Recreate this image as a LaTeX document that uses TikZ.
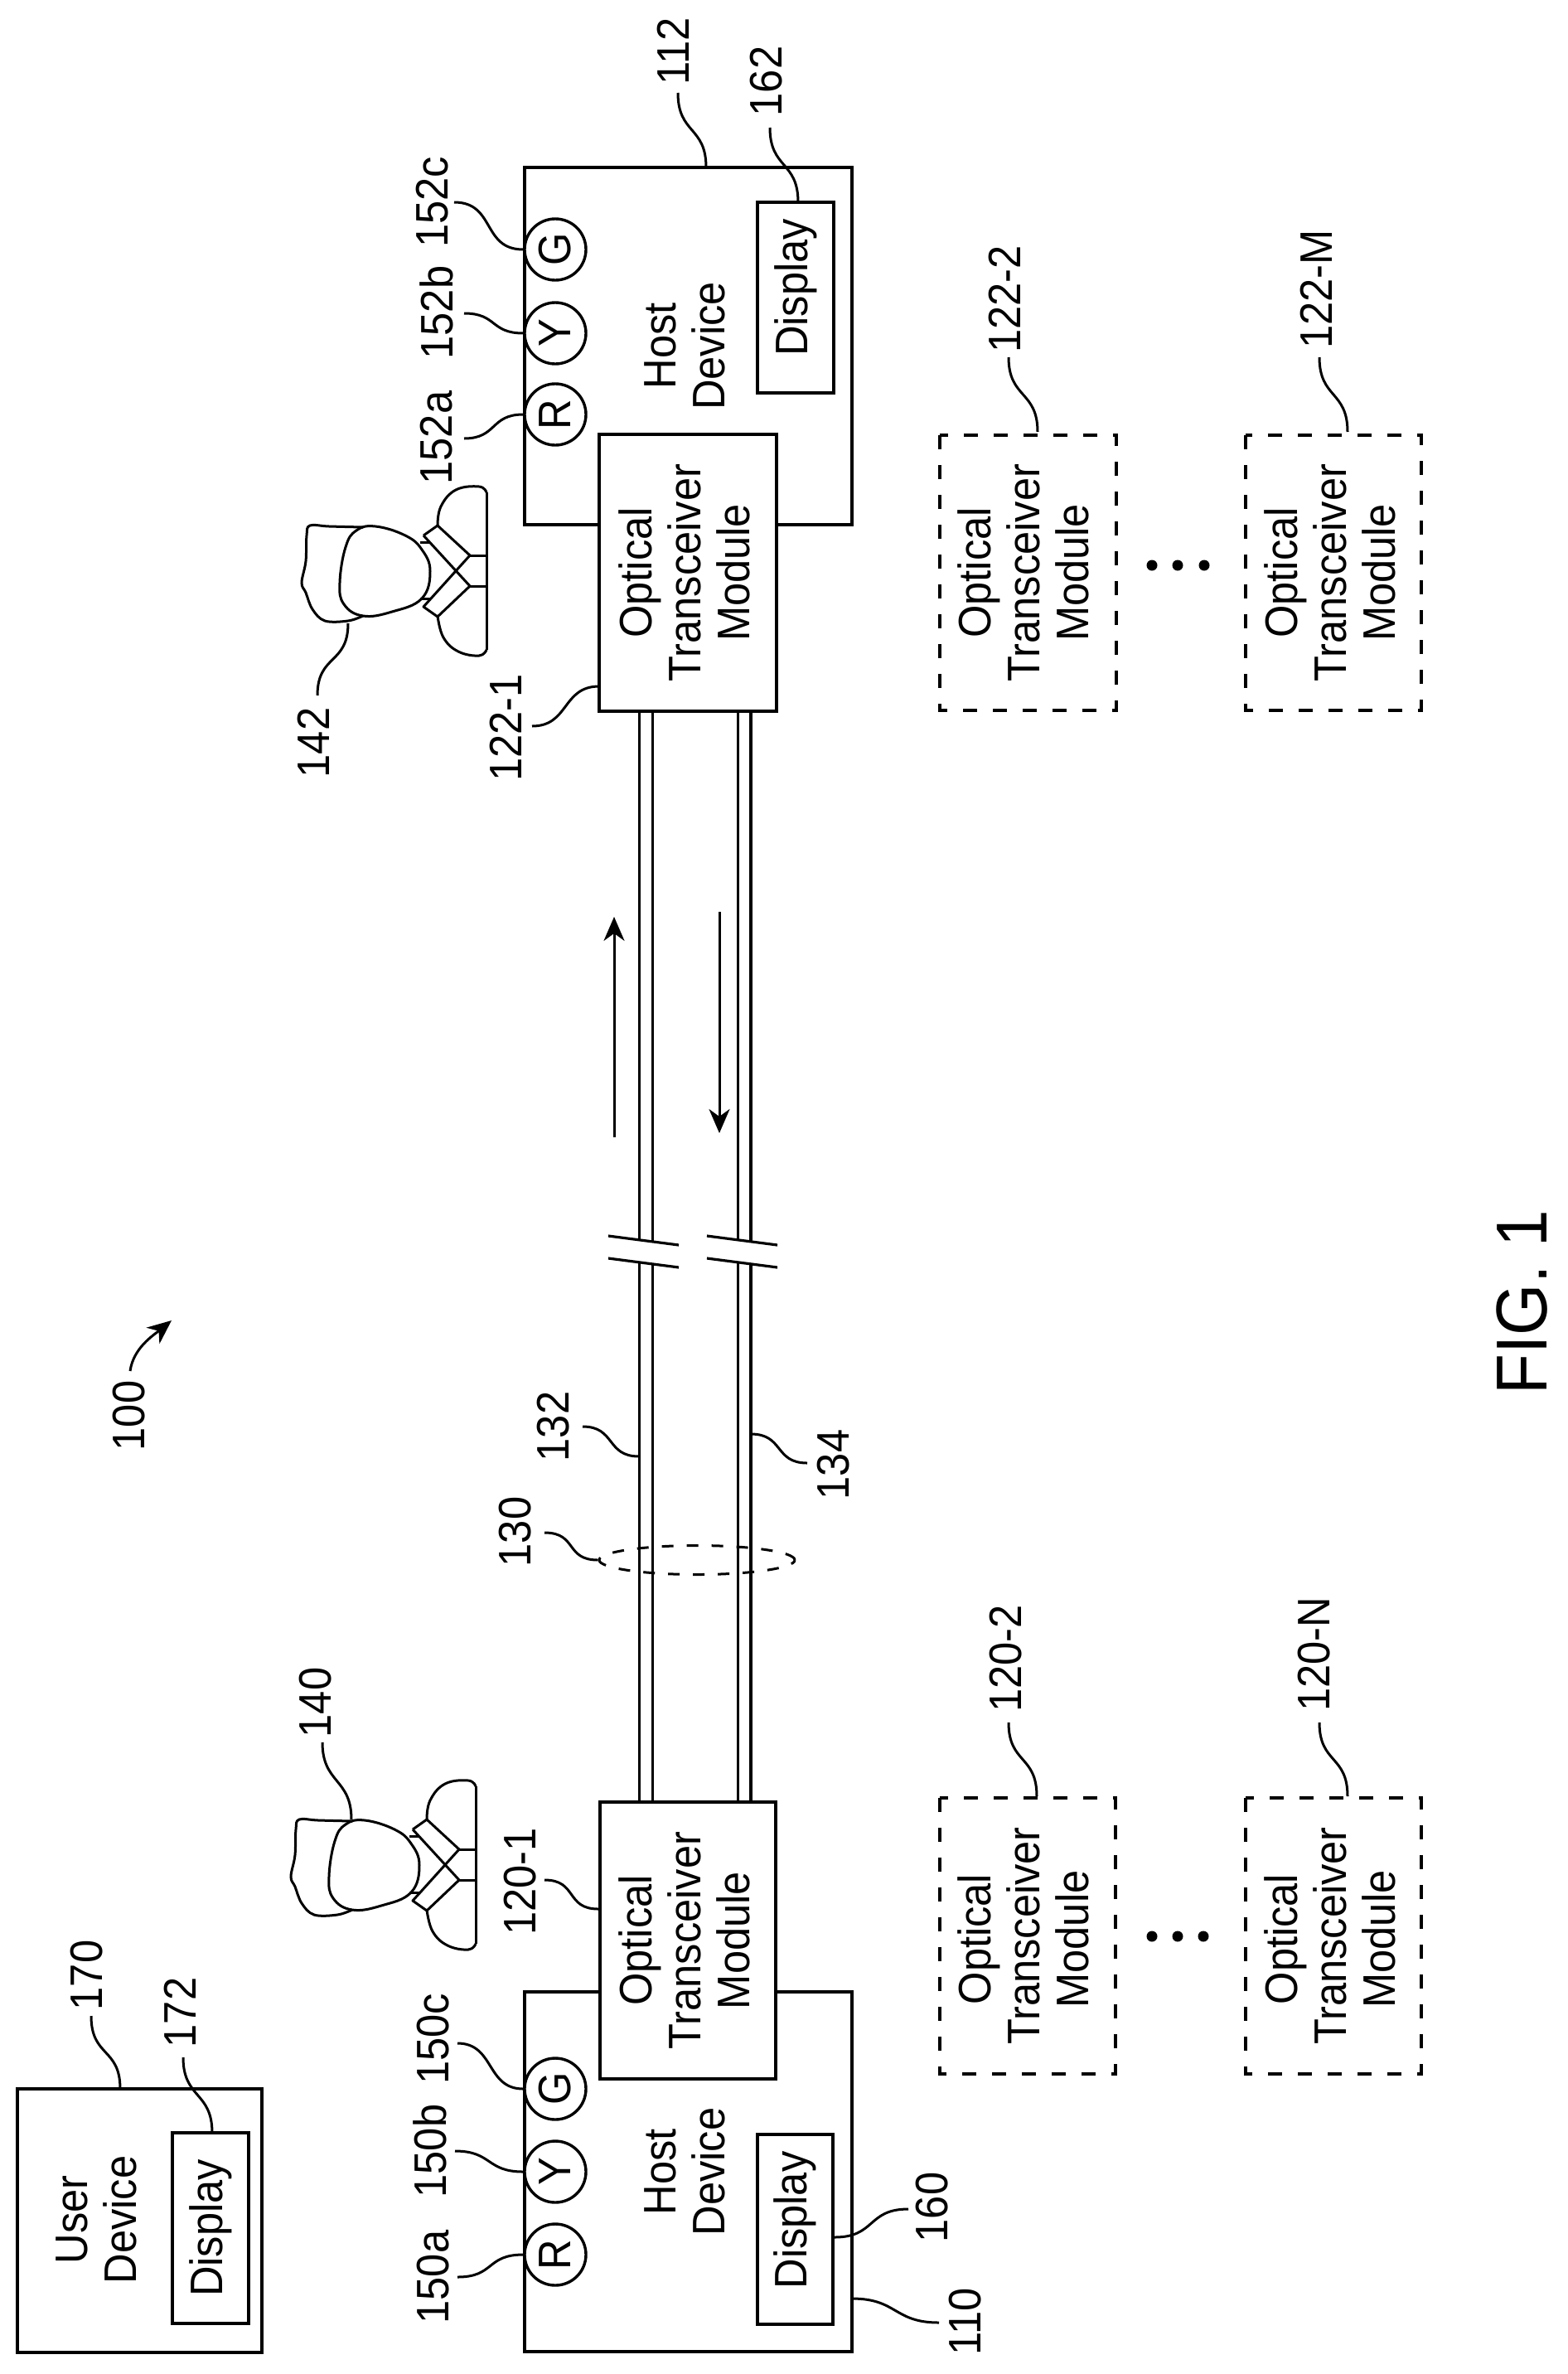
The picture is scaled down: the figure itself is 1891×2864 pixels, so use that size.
\documentclass[tikz,border=0pt]{standalone}
\usepackage{fontspec}
\setmainfont{Liberation Sans}[FakeStretch=0.92]
\usetikzlibrary{arrows.meta,shapes.geometric}
\newcommand{\vlead}[3]{\draw[lead] (#1) .. controls +(0,-#3) and +(0,#3) .. (#2);}
\newcommand{\hlead}[3]{\draw[lead] (#1) .. controls +(-#3,0) and +(#3,0) .. (#2);}
\newcommand{\otm}[2]{Optical\hspace*{#1}\\Transceiver\hspace*{#1}\\Module\rule[-#2]{0pt}{#2}\hspace*{#1}}
\tikzset{
  every node/.style={font=\fontsize{55}{59}\selectfont},
  lbl/.style={rotate=90,inner sep=0pt,align=center},
  boxa/.style={draw,fill=white,rotate=90,inner sep=0pt,align=center,line width=3.6pt},
  dashbox/.style={draw,rotate=90,inner sep=0pt,align=center,line width=3.2pt,dash pattern=on 17pt off 19pt},
  lamp/.style={circle,draw,fill=white,rotate=90,inner sep=0pt,minimum size=74pt,line width=3.4pt},
  dotn/.style={circle,fill=black,inner sep=0pt,minimum size=13pt},
  lead/.style={line width=3pt},
  fib/.style={line width=3.2pt},
  arr/.style={line width=3pt,-{Stealth[length=29pt,width=25pt,inset=9pt]}},
  person/.pic={
    \draw[lead] plot[smooth cycle,tension=0.7] coordinates {(519,689)(509,722)(473,738)(438,743)(415,729)(410,703)(417,660)(430,640)(453,635)(489,646)(509,663)};
    \draw[lead] plot[smooth,tension=0.6] coordinates {(438,636)(397,635)(374,634)(370,646)(369,677)(364,703)(369,715)(377,735)(392,749)(420,749)(438,743)};
    \draw[lead] plot[smooth,tension=0.7] coordinates {(528,634)(532,611)(550,591)(578,587)(587,594)};
    \draw[lead] plot[smooth,tension=0.7] coordinates {(528,743)(535,769)(553,786)(578,791)(587,784)};
    \draw[lead] (587,594)--(587,784);
    \draw[lead,line join=round] (511,646)--(528,634)--(567,670)--(511,732)--(528,744)--(567,707)--(511,646);
    \draw[lead] (567,670)--(587,670) (567,707)--(587,707);
    \draw[lead] (507,654)--(519,654) (507,722)--(520,722);
  }
}
\begin{document}
\begin{tikzpicture}[x=1pt,y=-1pt]
\useasboundingbox (0,0) rectangle (1891,2864);
\fill[white] (0,0) rectangle (1891,2864);

% host devices
\node[boxa,minimum width=431pt,minimum height=395pt] (host112) at (830.5,417.5) {Host\\Device\rule[-8pt]{0pt}{8pt}};
\node[boxa,minimum width=434pt,minimum height=395pt] (host110) at (830.5,2620) {Host\\Device\rule[-8pt]{0pt}{8pt}};
% lamps
\node[lamp] (c152c) at (670,301) {G};
\node[lamp] (c152b) at (670,402) {Y};
\node[lamp] (c152a) at (670,500) {R};
\node[lamp] (c150c) at (670,2520) {G};
\node[lamp] (c150b) at (670,2620) {Y};
\node[lamp] (c150a) at (670,2720) {R};
% displays
\node[boxa,minimum width=230pt,minimum height=92pt] (d162) at (960,359) {\hspace*{24pt}Display};
\node[boxa,minimum width=229pt,minimum height=91pt] (d160) at (959.5,2689.5) {\hspace*{22pt}Display};
% user device
\node[boxa,minimum width=318pt,minimum height=295pt] (u170) at (168.5,2679) {};
\node[lbl] (u170t) at (116,2678) {User\\Device};
\node[boxa,minimum width=230pt,minimum height=92pt] (d172) at (254,2688) {Display};

% fibres
\coordinate (fa1t) at (771.5,860); \coordinate (fa1m) at (771.5,1496); \coordinate (fa1n) at (771.5,1523); \coordinate (fa1b) at (771.5,2174);
\coordinate (fa2t) at (787.5,860); \coordinate (fa2m) at (787.5,1498); \coordinate (fa2n) at (787.5,1525); \coordinate (fa2b) at (787.5,2174);
\coordinate (fb1t) at (890.5,860); \coordinate (fb1m) at (890.5,1496); \coordinate (fb1n) at (890.5,1523); \coordinate (fb1b) at (890.5,2174);
\coordinate (fb2t) at (906,860); \coordinate (fb2m) at (906,1498); \coordinate (fb2n) at (906,1525); \coordinate (fb2b) at (906,2174);
\draw[fib] (fa1t)--(fa1m) (fa1n)--(fa1b) (fa2t)--(fa2m) (fa2n)--(fa2b);
\draw[fib] (fb1t)--(fb1m) (fb1n)--(fb1b) (fb2t)--(fb2m) (fb2n)--(fb2b);
\draw[fib] (fa1t) .. controls +(0,-9) and +(0,-9) .. (fa2t);
\draw[fib] (fb1t) .. controls +(0,-9) and +(0,-9) .. (fb2t);
% break marks
\coordinate (sa1) at (734,1491); \coordinate (sa2) at (819,1502); \coordinate (sa3) at (734,1518); \coordinate (sa4) at (819,1529);
\coordinate (sb1) at (853,1491); \coordinate (sb2) at (938,1502); \coordinate (sb3) at (853,1518); \coordinate (sb4) at (938,1529);
\draw[fib] (sa1)--(sa2) (sa3)--(sa4) (sb1)--(sb2) (sb3)--(sb4);
% modules
\node[boxa,minimum width=334pt,minimum height=214pt] (m122) at (830,691) {\otm{0pt}{8pt}};
\node[boxa,minimum width=334pt,minimum height=212pt] (m120) at (830,2341) {\otm{0pt}{8pt}};
\node[dashbox,minimum width=332pt,minimum height=213pt] (m1222) at (1240.5,691) {\otm{0pt}{11pt}};
\node[dashbox,minimum width=332pt,minimum height=212pt] (m122M) at (1609,691) {\otm{0pt}{8pt}};
\node[dashbox,minimum width=333pt,minimum height=212pt] (m1202) at (1240,2335.5) {\otm{8pt}{11pt}};
\node[dashbox,minimum width=333pt,minimum height=212pt] (m120N) at (1609,2335.5) {\otm{8pt}{8pt}};
% dots
\node[dotn] (da1) at (1390,682) {}; \node[dotn] (da2) at (1421,682) {}; \node[dotn] (da3) at (1453,682) {};
\node[dotn] (db1) at (1390,2336) {}; \node[dotn] (db2) at (1421,2336) {}; \node[dotn] (db3) at (1452,2336) {};
% bundle ellipse
\node[ellipse,draw,inner sep=0pt,minimum width=236pt,minimum height=35pt,line width=3pt,dash pattern=on 14pt off 16pt] (ell130) at (841,1882) {};
% direction arrows
\coordinate (a1s) at (741,1372); \coordinate (a1e) at (741,1106);
\coordinate (a2s) at (868,1100); \coordinate (a2e) at (868,1367);
\draw[arr] (a1s)--(a1e);
\draw[arr] (a2s)--(a2e);
\coordinate (a3s) at (157,1654); \coordinate (a3e) at (207,1593);
\draw[arr] (a3s) .. controls +(4,-28) and +(-22,18) .. (a3e);

% persons
\pic (p142) at (0,0) {person};
\pic (p140) at (-13,1561) {person};

% labels
\node[lbl] (l112) at (812,62) {112};
\node[lbl] (l162) at (925,98) {162};
\node[lbl] (l152a) at (527,528) {152a};
\node[lbl] (l152b) at (527,377) {152b};
\node[lbl] (l152c) at (522,244) {152c};
\node[lbl] (l142) at (378,896) {142};
\node[lbl] (l140) at (381,2054) {140};
\node[lbl] (l1221) at (610,878) {122-1};
\node[lbl] (l1201) at (628,2270) {120-1};
\node[lbl] (l150a) at (523,2747) {150a};
\node[lbl] (l150b) at (519,2595) {150b};
\node[lbl] (l150c) at (523,2460) {150c};
\node[lbl] (l170) at (105,2383) {170};
\node[lbl] (l172) at (217,2428) {172};
\node[lbl] (l160) at (1125,2663) {160};
\node[lbl] (l110) at (1165,2801) {110};
\node[lbl] (l1202) at (1214,2001) {120-2};
\node[lbl] (l120N) at (1586,1996) {120-N};
\node[lbl] (l1222) at (1212,361) {122-2};
\node[lbl] (l122M) at (1588,349) {122-M};
\node[lbl] (l100) at (156,1708) {100};
\node[lbl] (l130) at (622,1848) {130};
\node[lbl] (l132) at (668,1721) {132};
\node[lbl] (l134) at (1006,1767) {134};
\node[lbl,font=\fontsize{87}{90}\selectfont] (fig) at (1837,1571) {FIG. 1};

% leaders
\coordinate (t112) at (852,202); \coordinate (e112) at (818,112); \vlead{t112}{e112}{50}
\coordinate (t162) at (963,244); \coordinate (e162) at (929,154); \vlead{t162}{e162}{50}
\coordinate (e152c) at (548,244); \hlead{c152c.north}{e152c}{50}
\coordinate (e152b) at (560,378); \hlead{c152b.north}{e152b}{40}
\coordinate (e152a) at (560,529); \hlead{c152a.north}{e152a}{40}
\coordinate (e150c) at (552,2465); \hlead{c150c.north}{e150c}{45}
\coordinate (e150b) at (549,2595); \hlead{c150b.north}{e150b}{45}
\coordinate (e150a) at (552,2747); \hlead{c150a.north}{e150a}{45}
\coordinate (t142) at (420,752); \coordinate (e142) at (383,839); \vlead{e142}{t142}{50}
\coordinate (t140) at (424,2195); \coordinate (e140) at (389,2102); \vlead{t140}{e140}{50}
\coordinate (t1221) at (723,828); \coordinate (e1221) at (642,876); \hlead{t1221}{e1221}{45}
\coordinate (t1201) at (722,2303); \coordinate (e1201) at (657,2268); \hlead{t1201}{e1201}{40}
\coordinate (t170) at (145,2520); \coordinate (e170) at (110,2432); \vlead{t170}{e170}{50}
\coordinate (t172) at (256,2573); \coordinate (e172) at (221,2482); \vlead{t172}{e172}{50}
\coordinate (t160) at (1007,2699); \coordinate (e160) at (1096,2665); \hlead{e160}{t160}{50}
\coordinate (t110) at (1028,2773); \coordinate (e110) at (1133,2802); \hlead{e110}{t110}{55}
\coordinate (t1202) at (1251,2167); \coordinate (e1202) at (1217,2078); \vlead{t1202}{e1202}{50}
\coordinate (t120N) at (1626,2167); \coordinate (e120N) at (1592,2078); \vlead{t120N}{e120N}{50}
\coordinate (t1222) at (1252,521); \coordinate (e1222) at (1217,431); \vlead{t1222}{e1222}{50}
\coordinate (t122M) at (1626,521); \coordinate (e122M) at (1592,431); \vlead{t122M}{e122M}{50}
\coordinate (t132) at (771,1757); \coordinate (e132) at (703,1721); \hlead{t132}{e132}{40}
\coordinate (e130) at (657,1849); \hlead{ell130.west}{e130}{40}
\coordinate (t134) at (906,1730); \coordinate (e134) at (974,1765); \hlead{e134}{t134}{40}
\end{tikzpicture}
\end{document}
